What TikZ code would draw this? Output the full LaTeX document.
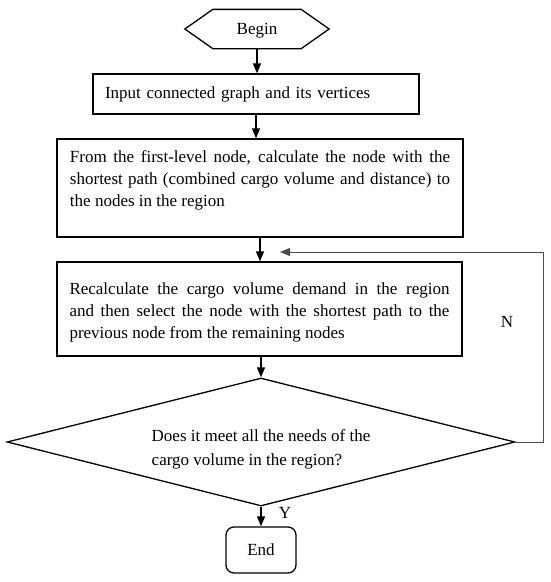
\documentclass[tikz,border=0pt]{standalone}
\usepackage{fontspec}
\setmainfont{Liberation Serif}
\usetikzlibrary{shapes.geometric,arrows.meta}
\begin{document}
\begin{tikzpicture}[x=1pt,y=-1pt,
  font=\fontsize{17}{22}\selectfont,
  line width=1.3pt,
  flowbox/.style={draw, rectangle, inner ysep=0pt},
  arr/.style={-{Triangle[length=10pt,width=8pt]}},
  loopline/.style={draw=black!70, line width=1pt, -{Triangle[length=10pt,width=8pt]}},
  lbl/.style={inner sep=0pt}]
\useasboundingbox (0,0) rectangle (550,582);

% Begin (hexagon)
\node[minimum width=143pt, minimum height=38pt, inner sep=0pt, text depth=0pt] (begin) at (257,29) {Begin};
\draw (begin.west) -- ([xshift=28pt]begin.north west) -- ([xshift=-28pt]begin.north east)
  -- (begin.east) -- ([xshift=-28pt]begin.south east) -- ([xshift=28pt]begin.south west) -- cycle;

% Input box
\node[flowbox, minimum width=326pt, minimum height=40pt, text width=302pt, inner xsep=12pt, align=left] (input) at (256,94)
  {Input connected graph and its vertices};

% First-level box
\node[flowbox, minimum width=406pt, minimum height=98pt, inner xsep=13pt] (first) at (260,188)
  {\parbox[c][98pt][t]{380pt}{\vspace*{12pt}\noindent From the first-level node, calculate the node with the\linebreak{} shortest path (combined cargo volume and distance) to\linebreak{} the nodes in the region}};

% Recalculate box
\node[flowbox, minimum width=405pt, minimum height=94pt, inner xsep=12.5pt] (recalc) at (259.5,309)
  {\parbox[c][94pt][t]{380pt}{\vspace*{21pt}\noindent Recalculate the cargo volume demand in the region\linebreak{} and then select the node with the shortest path to the\linebreak{} previous node from the remaining nodes}};

% Decision diamond
\node[draw, diamond, aspect=4, minimum width=508pt, minimum height=128pt, inner sep=0pt] (dec) at (261,442) {};
\node[lbl, align=left, font=\fontsize{17}{24}\selectfont] (dectext) at (261,449) {Does it meet all the needs of the\\cargo volume in the region?};

% End
\node[draw, rounded corners=8pt, minimum width=70pt, minimum height=46pt, inner sep=0pt] (end) at (261,550) {End};

% Connectors
\draw[arr] (begin.south) -- (begin.south |- input.north);
\draw[arr] (input.south) -- (input.south |- first.north);
\draw[arr] (first.south) -- (first.south |- recalc.north);
\draw[arr] (recalc.south -| dec.north) -- (dec.north);
\draw[arr] (dec.south) -- (end.north);

\coordinate (loopend) at (280,252);
\draw[loopline] (dec.east) -- ++(28,0) |- (loopend);

% Labels
\node[lbl] (ylab) at (285,513) {Y};
\node[lbl] (nlab) at (507,322) {N};
\end{tikzpicture}
\end{document}
